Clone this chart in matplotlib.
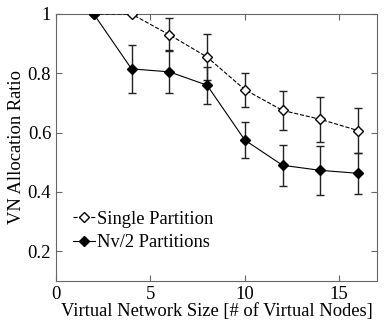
import matplotlib
matplotlib.use("Agg")
import matplotlib.pyplot as plt
from matplotlib.lines import Line2D

x = [2, 4, 6, 8, 10, 12, 14, 16]
single = [1.0, 1.0, 0.93, 0.855, 0.745, 0.675, 0.645, 0.607]
single_err = [0.0, 0.0, 0.055, 0.078, 0.057, 0.065, 0.076, 0.077]
multi = [1.0, 0.815, 0.805, 0.76, 0.575, 0.49, 0.473, 0.463]
multi_err = [0.0, 0.08, 0.072, 0.063, 0.061, 0.07, 0.083, 0.07]

plt.rcParams['font.family'] = ['Liberation Serif', 'DejaVu Serif']
fig = plt.figure(figsize=(3.9, 3.25), dpi=100)
ax = fig.add_axes([56/390, 1 - 281/325, (377-56)/390, (281-14)/325])

ax.errorbar(x, single, yerr=single_err, fmt='--D', color='black', mfc='white', mec='black',
            ms=5, lw=0.8, elinewidth=1.0, capsize=3, ecolor='#222222', zorder=3)
ax.errorbar(x, multi, yerr=multi_err, fmt='-D', color='black', mfc='black', mec='black',
            ms=5, lw=0.8, elinewidth=1.0, capsize=3, ecolor='#222222', zorder=4)

ax.set_xlim(0, 17)
ax.set_ylim(0.1, 1.0)
ax.set_xticks([0, 5, 10, 15])
ax.set_yticks([0.2, 0.4, 0.6, 0.8, 1.0])
ax.set_yticklabels(['0.2', '0.4', '0.6', '0.8', '1'])
ax.tick_params(direction='in', top=True, right=True, labelsize=13.5, color='#666666', length=4)
for s in ax.spines.values():
    s.set_color('#666666')
    s.set_linewidth(0.8)
ax.set_xlabel('Virtual Network Size [# of Virtual Nodes]', fontsize=13.3, labelpad=0)
ax.set_ylabel('VN Allocation Ratio', fontsize=13.3, labelpad=2)

handles = [
    Line2D([], [], ls='--', marker='D', color='black', mfc='white', mec='black', ms=5, lw=0.8),
    Line2D([], [], ls='-', marker='D', color='black', mfc='black', mec='black', ms=5, lw=0.8),
]
ax.legend(handles, ['Single Partition', 'Nv/2 Partitions'], loc='upper left',
          bbox_to_anchor=(0.03, 0.29), frameon=False, fontsize=13.3,
          handlelength=1.2, handletextpad=0.1, borderaxespad=0, labelspacing=0.35)
fig.savefig('out.png', dpi=100)
